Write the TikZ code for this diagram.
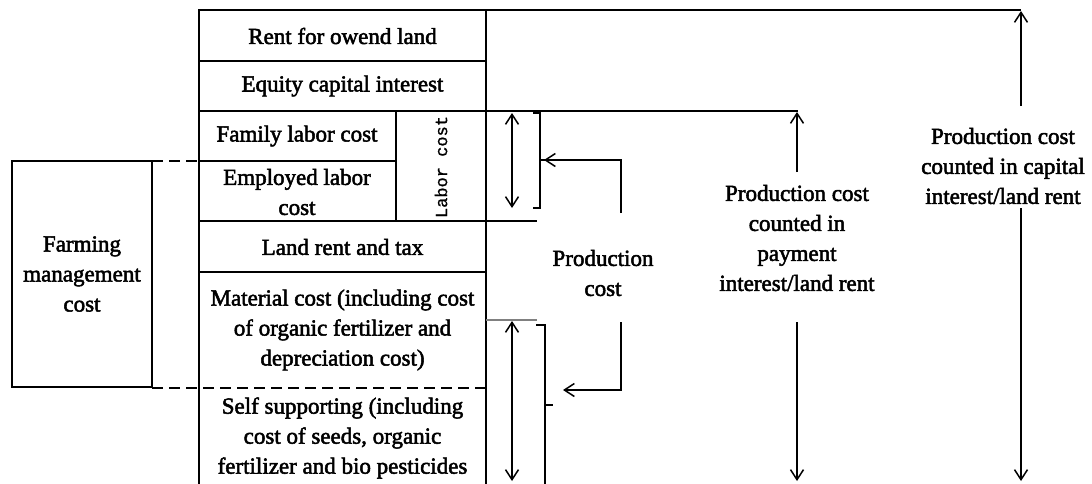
\documentclass[tikz,border=0pt]{standalone}
\usepackage{fontspec}
\setmainfont{Liberation Serif}
\newfontfamily\heavy{Liberation Serif}[FakeBold=2.2]
\newfontfamily\monofam{Liberation Mono}[FakeBold=1]
\usetikzlibrary{arrows.meta}
\tikzset{
  ln/.style={line width=1.6pt, line cap=rect},
  thin ln/.style={line width=1.2pt, gray},
  dash ln/.style={line width=2pt, dash pattern=on 11pt off 6pt},
  txt/.style={font=\heavy\fontsize{23}{30}\selectfont, align=center, inner sep=0pt},
  arr/.style={line width=1.5pt, -{Straight Barb[length=10pt,width=13pt,line width=1.5pt]}},
  darr/.style={line width=1.5pt, {Straight Barb[length=10pt,width=13pt,line width=1.5pt]}-{Straight Barb[length=10pt,width=13pt,line width=1.5pt]}}
}
\begin{document}
\begin{tikzpicture}[x=1pt,y=-1pt]
\useasboundingbox (0,0) rectangle (1092,483);
% column grid
\draw[ln] (199,483) -- (199,10) -- (1020,10);
\draw[ln] (486,10) -- (486,483);
\draw[ln] (199,61) -- (486,61);
\draw[ln] (199,111) -- (797,111);
\draw[ln] (199,161) -- (396,161);
\draw[ln] (396,111) -- (396,221);
\draw[ln] (199,221) -- (536,221);
\draw[ln] (199,272) -- (486,272);
% farming box
\draw[ln] (152,161) rectangle (12,387);
\draw[dash ln] (152,161) -- (199,161);
\draw[dash ln] (152,388) -- (486,388);
% texts
\node[txt] (rent) at (342.5,36) {Rent for owend land};
\node[txt] (equity) at (342.5,86) {Equity capital interest};
\node[txt] (family) at (297,136) {Family labor cost};
\node[txt] (employed) at (297,192) {Employed labor\\cost};
\node[font=\monofam\fontsize{17}{20}\selectfont, rotate=90, inner sep=0pt] (labor) at (441,167) {Labor cost};
\node[txt] (land) at (342.5,247) {Land rent and tax};
\node[txt] (material) at (342.5,330) {Material cost (including cost\\of organic fertilizer and\\depreciation cost)};
\node[txt] (self) at (342.5,438) {Self supporting (including\\cost of seeds, organic\\fertilizer and bio pesticides};
\node[txt] (farming) at (82,274) {Farming\\management\\cost};
\node[txt] (pc) at (603,273) {Production\\cost};
\node[txt] (pm) at (797,238) {Production cost\\counted in\\payment\\interest/land rent};
\node[txt] (pk) at (1003,166) {Production cost\\counted in capital\\interest/land rent};
% coordinates
\coordinate (ua1) at (512,113);
\coordinate (ua2) at (512,208);
\coordinate (ub) at (540,160);
\coordinate (la1) at (512,321);
\coordinate (la2) at (512,481);
\coordinate (lb) at (563,390);
\coordinate (pcu) at (621,213);
\coordinate (pcl) at (621,322);
\coordinate (pmt) at (797,112);
\coordinate (pmb) at (797,481);
\coordinate (pkt) at (1021,11);
\coordinate (pkb) at (1021,481);
% upper labour brackets
\draw[darr] (ua1) -- (ua2);
\draw[ln, line width=1.4pt] (534,113) -- (540,113) -- (540,208) -- (534,208);
\draw[ln, line width=1.4pt] (ub) -- (544,160);
\draw[arr] (pcu) -- (621,160) -- (544,160);
% lower brackets
\draw[thin ln] (486,320) -- (537,320);
\draw[darr] (la1) -- (la2);
\draw[ln, line width=1.4pt] (537,325) -- (545,325) -- (545,483);
\draw[ln, line width=1.4pt] (545,405) -- (552,405);
\draw[arr] (pcl) -- (621,390) -- (lb);
% middle
\draw[arr] (797,172) -- (pmt);
\draw[arr] (797,322) -- (pmb);
% right
\draw[arr] (1021,106) -- (pkt);
\draw[arr] (1021,208) -- (pkb);
\end{tikzpicture}
\end{document}
